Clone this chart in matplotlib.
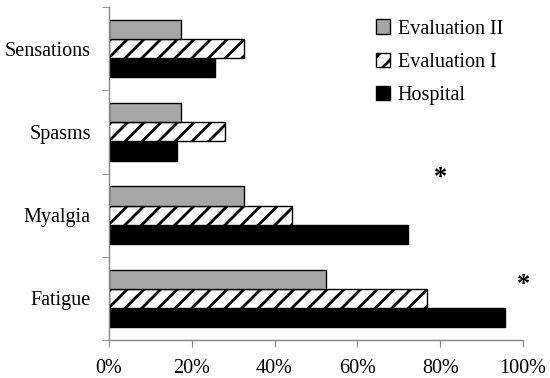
import numpy as np
import matplotlib
matplotlib.use("Agg")
import matplotlib.pyplot as plt
from matplotlib.patches import Patch

plt.rcParams['font.family'] = ['Liberation Serif', 'DejaVu Serif']
plt.rcParams['hatch.color'] = '#808080'
plt.rcParams['hatch.linewidth'] = 2.0

# データ（下から上の順）
categories = ['Fatigue', 'Myalgia', 'Spasms', 'Sensations']
hospital = [95.6, 72.2, 16.4, 25.7]
evaluation_1 = [76.8, 44.2, 28.0, 32.7]
evaluation_2 = [52.5, 32.6, 17.5, 17.5]
xticks = [0, 20, 40, 60, 80, 100]
xtick_labels = ['0%', '20%', '40%', '60%', '80%', '100%']

fig = plt.figure(figsize=(5.5, 3.78), dpi=100)
ax = fig.add_axes([0.198, 0.1005, 0.753, 0.881])

y = np.arange(len(categories))
h = 0.23
ax.barh(y - h, hospital, height=h, color='black', edgecolor='black', linewidth=1)
ax.barh(y, evaluation_1, height=h, color='white', edgecolor='black', linewidth=1, hatch='//')
ax.barh(y + h, evaluation_2, height=h, color='#a6a6a6', edgecolor='black', linewidth=1)

ax.set_xlim(0, 100)
ax.set_ylim(-0.5, 3.5)
ax.set_xticks(xticks)
ax.set_xticklabels(xtick_labels)
ax.set_yticks(y)
ax.set_yticklabels(categories)
ax.set_yticks(np.arange(-0.5, 4.0, 1.0), minor=True)

for s in ['top', 'right']:
    ax.spines[s].set_visible(False)
for s in ['left', 'bottom']:
    ax.spines[s].set_color('#888888')
    ax.spines[s].set_linewidth(1)
ax.tick_params(axis='y', which='major', length=0, labelsize=14.5, pad=13)
ax.tick_params(axis='y', which='minor', length=5, color='#888888')
ax.tick_params(axis='x', length=5, color='#888888', labelsize=14.5, pad=9)

# 有意差マーク
ax.text(80, 1.45, '*', fontsize=19, fontweight='bold', ha='center', va='center')
ax.text(100, 0.17, '*', fontsize=19, fontweight='bold', ha='center', va='center')

handles = [
    Patch(facecolor='#a6a6a6', edgecolor='black', label='Evaluation II'),
    Patch(facecolor='white', edgecolor='black', hatch='//', label='Evaluation I'),
    Patch(facecolor='black', edgecolor='black', label='Hospital'),
]
ax.legend(handles=handles, loc='upper left', bbox_to_anchor=(0.6, 1.017),
          frameon=False, fontsize=14.5, handlelength=0.7, handleheight=0.7,
          handletextpad=0.4, labelspacing=0.7)

fig.savefig('out.png', dpi=100)
